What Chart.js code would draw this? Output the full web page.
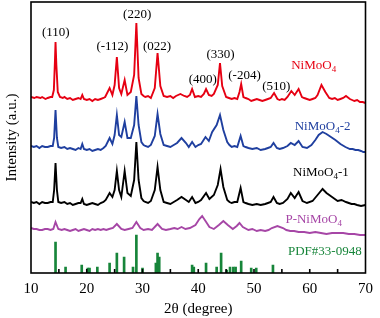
<!DOCTYPE html>
<html>
<head>
<meta charset="utf-8">
<script src="https://cdn.jsdelivr.net/npm/chart.js@4/dist/chart.umd.min.js"></script>
<style>
  html, body { margin: 0; padding: 0; background: #fff; }
</style>
</head>
<body>
<canvas id="xrd" width="380" height="318"></canvas>
<script>
// [2theta, intensity] (arbitrary units, stacked)
const nimoo4 = [
    [10, 176], [10.6, 175], [11, 176], [11.7, 175], [12, 176], [12.6, 174], [13, 175], [13.5, 176], [13.8, 176], [14.1, 183], [14.3, 213], [14.4, 231],
    [14.55, 208], [14.8, 181], [15.2, 176], [15.7, 175], [16, 176], [16.5, 174], [17, 175], [17.5, 173], [18, 174], [18.5, 175], [18.9, 174], [19.2, 178],
    [19.5, 174], [20, 173], [20.5, 174], [21, 172], [21.5, 174], [22, 173], [22.5, 174], [23, 175], [23.3, 176], [24.1, 185], [24.6, 178], [25, 188],
    [25.4, 216], [25.8, 185], [26.2, 179], [26.8, 193], [27.3, 178], [27.9, 181], [28.5, 198], [28.9, 250],
    [29.3, 195], [29.8, 179], [30.2, 177], [30.5, 176], [31, 177], [31.5, 175], [32.2, 185], [32.7, 220], [33.2, 187], [33.8, 177],
    [34.4, 176], [35, 177], [35.5, 175], [36, 177], [36.8, 179], [37.5, 177], [38, 176], [38.5, 178], [38.9, 184], [39.4, 176], [40, 177], [40.5, 176],
    [41, 179], [41.4, 184], [41.9, 178], [42.4, 177], [42.8, 179], [43.5, 188], [43.9, 210], [44.3, 187], [45, 176],
    [45.5, 175], [46, 174], [46.5, 175], [47, 174], [47.4, 181], [47.7, 189], [48.1, 176], [48.5, 175], [49, 174], [49.5, 172], [50, 173], [50.5, 174], [51, 173],
    [51.5, 172], [52, 173], [52.5, 174], [53, 175], [53.6, 180], [54.2, 174], [54.6, 173], [55, 174], [55.5, 173], [56, 176], [56.7, 182], [57.3, 178],
    [58, 184], [58.6, 176], [59, 175], [59.5, 174], [60, 173], [60.5, 174], [61, 175], [61.4, 178], [62.1, 188], [62.8, 181], [63.5, 175],
    [64, 174], [64.5, 175], [65, 173], [65.5, 174], [66, 175], [66.5, 177], [67.2, 174], [67.6, 173], [68, 172], [68.5, 173], [69, 171], [69.5, 171], [70, 170]
];
const nimoo4_2 = [
    [10, 127], [10.5, 126], [11, 127], [11.5, 125], [12, 127], [12.5, 126], [13, 126], [13.5, 127], [13.9, 127], [14.15, 135], [14.4, 163], [14.65, 135],
    [14.9, 126], [15.4, 125], [16, 126], [16.5, 124], [17, 125], [17.5, 124], [18, 123], [18.5, 125], [18.9, 124], [19.2, 129], [19.5, 124], [20, 123], [20.5, 124],
    [21, 122], [21.5, 123], [22, 124], [22.5, 123], [23, 125], [23.4, 127], [24.1, 135], [24.6, 129], [25, 138], [25.4, 158], [25.8, 138],
    [26.2, 136], [26.8, 151], [27.3, 135], [27.9, 135], [28.5, 148], [28.9, 177], [29.3, 148], [29.8, 131],
    [30.2, 128], [30.5, 127], [31, 126], [31.5, 128], [32.2, 137], [32.7, 159], [33.2, 139], [33.8, 128], [34.4, 127], [35, 126], [35.6, 128], [36.2, 130],
    [37, 135], [37.8, 130], [38.3, 126], [38.9, 131], [39.5, 126], [40, 128], [40.5, 129], [41.3, 136], [41.9, 132],
    [42.5, 141], [43.3, 148], [43.9, 158], [44.5, 143], [45.2, 131], [45.6, 128], [46, 126], [46.5, 127], [47, 126], [47.6, 137],
    [48.1, 127], [48.5, 126], [49, 125], [49.7, 124], [50.5, 125], [51.2, 123], [52, 124], [52.5, 125], [53, 126], [53.5, 130], [54.1, 125], [54.6, 124], [55.2, 125],
    [56, 127], [56.6, 130], [57.3, 128], [58, 132], [58.7, 126], [59.5, 125], [60.3, 128], [61, 133],
    [61.6, 138], [62.3, 141], [63, 139], [63.8, 136], [64.6, 133], [65.5, 129], [66.4, 126], [67.2, 124],
    [67.7, 124], [68.2, 123], [68.7, 123], [69.2, 122], [69.6, 121], [70, 121]
];
const nimoo4_1 = [
    [10, 71], [10.5, 70], [11, 71], [11.5, 69], [12, 71], [12.5, 70], [13, 70], [13.5, 71], [13.9, 71], [14.15, 83], [14.4, 110], [14.65, 83],
    [14.9, 71], [15.4, 70], [16, 71], [16.5, 69], [17, 70], [17.5, 68], [18, 69], [18.5, 70], [18.9, 70], [19.2, 74], [19.5, 69], [20, 68], [20.5, 69],
    [21, 70], [21.5, 69], [22, 68], [22.5, 70], [23, 71], [23.4, 73], [24.1, 80], [24.6, 76], [25, 83], [25.4, 102], [25.8, 83],
    [26.2, 76], [26.8, 102], [27.3, 80], [27.9, 77], [28.5, 93], [28.9, 131], [29.3, 93], [29.8, 75],
    [30.2, 72], [30.5, 71], [31, 70], [31.5, 72], [32.2, 83], [32.7, 106], [33.2, 83], [33.8, 71], [34.4, 70], [35, 69], [35.6, 71], [36.2, 73],
    [37, 76], [37.8, 73], [38.3, 71], [38.9, 76], [39.5, 70], [40, 71], [40.5, 73], [41.4, 80], [42, 74],
    [42.8, 78], [43.5, 88], [44, 104], [44.5, 86], [45.2, 73], [45.6, 71], [46, 70], [46.5, 71], [47, 71], [47.6, 85],
    [48.1, 71], [48.5, 70], [49, 69], [49.7, 68], [50.5, 69], [51.2, 68], [52, 69], [52.5, 70], [53, 71], [53.5, 76], [54.1, 70], [54.6, 69], [55.2, 70],
    [56, 74], [56.6, 80], [57.3, 75], [58, 81], [58.7, 72], [59.5, 70], [60.5, 72], [61.4, 78],
    [62.3, 84], [63, 80], [64, 76], [65, 72], [65.7, 73], [66.5, 71], [67, 70], [67.5, 69], [68, 69], [68.5, 68], [69.2, 67], [70, 68]
];
const pNimoo4 = [
    [10, 45], [10.5, 44], [11, 44], [11.5, 43], [12, 43], [12.5, 44], [13, 44], [13.5, 43], [14, 44], [14.4, 51], [14.9, 44], [15.5, 43], [16, 44], [16.5, 43],
    [17, 42], [17.5, 43], [18, 44], [18.5, 42], [19, 43], [19.5, 44], [20, 43], [20.5, 42], [21, 44], [21.5, 43], [22, 44], [22.5, 43], [23, 44], [23.5, 43],
    [24, 44], [24.7, 45], [25.4, 49], [26.2, 44], [26.8, 43], [27.5, 44], [28.2, 45], [28.9, 51], [29.6, 45], [30.2, 43], [31, 44], [31.7, 43],
    [32.7, 49], [33.5, 44], [34.2, 43], [35, 44], [35.7, 45], [36.3, 44], [37, 46], [37.7, 44], [38.5, 45], [39.5, 48], [40.2, 54], [40.7, 57],
    [41.3, 52], [42, 46], [42.8, 44], [43.7, 48], [44.5, 52], [45.3, 48], [46.2, 44], [46.9, 47],
    [47.4, 50], [48, 46], [49, 43], [49.7, 44], [50.5, 42], [51.2, 43], [52, 42], [52.6, 43], [53.2, 45], [54.2, 47], [55.2, 45],
    [55.8, 43], [56.5, 42], [57.2, 42], [58, 41], [59, 41], [60, 40], [61, 41], [62, 40], [63, 39], [64, 40], [65, 40], [66, 40], [67, 39], [68, 39], [69, 38], [70, 38]
];
// PDF#33-0948 reference lines
const pdfAngles = [14.4, 16.2, 19.1, 20.2, 20.5, 21.9, 24.1, 25.4, 26.7, 28.3, 28.9, 30.0, 32.4, 32.7,
    33.0, 38.9, 39.2, 41.4, 43.3, 44.1, 45.1, 45.7, 46.3, 46.7, 47.7, 49.5, 50.4, 53.4];
const pdfHeights = [31, 6, 8, 5, 5, 6, 10, 20, 16, 6, 38, 5, 10, 20,
    16, 8, 6, 10, 6, 20, 3, 6, 6, 6, 12, 5, 5, 8];

const hkl = ['(110)', '(-112)', '(220)', '(022)', '(400)', '(330)', '(-204)', '(510)'];
const hklAngles = [14.45, 24.6, 29.05, 32.6, 40.8, 44.0, 48.3, 54.0];
const xTicks = [10, 20, 30, 40, 50, 60, 70];

const serif = '"Liberation Serif", "Times New Roman", serif';
const toXY = (arr) => arr.map(p => ({ x: p[0], y: p[1] }));

// frame + inward ticks + text labels
const decorations = {
    id: 'decorations',
    afterDatasetsDraw(chart) {
        const ctx = chart.ctx;
        const a = chart.chartArea;
        const xs = chart.scales.x, ys = chart.scales.y;
        ctx.save();
        ctx.strokeStyle = '#000';
        ctx.lineWidth = 1.6;
        ctx.strokeRect(a.left, a.top, a.right - a.left, a.bottom - a.top);
        for (let v = 15; v < 70; v += 5) {
            const px = xs.getPixelForValue(v);
            ctx.beginPath();
            ctx.moveTo(px, a.bottom);
            ctx.lineTo(px, a.bottom - 4);
            ctx.stroke();
        }

        ctx.font = '13px ' + serif;
        ctx.textAlign = 'center';
        ctx.textBaseline = 'middle';
        ctx.fillStyle = '#000';
        const hklY = [240, 226, 258, 226, 193, 218, 197, 186];
        hkl.forEach(function(t, i) {
            ctx.fillText(t, xs.getPixelForValue(hklAngles[i]), ys.getPixelForValue(hklY[i]));
        });

        chemLabel(ctx, 'NiMoO', '4', '', xs.getPixelForValue(60.7), ys.getPixelForValue(207), '#e60012');
        chemLabel(ctx, 'NiMoO', '4', '-2', xs.getPixelForValue(62.3), ys.getPixelForValue(146), '#1f3f9f');
        chemLabel(ctx, 'NiMoO', '4', '-1', xs.getPixelForValue(62.0), ys.getPixelForValue(100), '#000');
        chemLabel(ctx, 'P-NiMoO', '4', '', xs.getPixelForValue(60.7), ys.getPixelForValue(53), '#a646a6');
        chemLabel(ctx, 'PDF#33-0948', '', '', xs.getPixelForValue(62.7), ys.getPixelForValue(21), '#17853a');
        ctx.restore();
    }
};

function chemLabel(ctx, main, sub, tail, cx, cy, color) {
    const big = '13px ' + serif, small = '9px ' + serif;
    ctx.font = big;
    const w1 = ctx.measureText(main).width, w3 = ctx.measureText(tail).width;
    ctx.font = small;
    const w2 = sub ? ctx.measureText(sub).width : 0;
    let x = cx - (w1 + w2 + w3) / 2;
    ctx.fillStyle = color;
    ctx.textAlign = 'left';
    ctx.textBaseline = 'middle';
    ctx.font = big;
    ctx.fillText(main, x, cy);
    x += w1;
    if (sub) {
        ctx.font = small;
        ctx.fillText(sub, x, cy + 4);
        x += w2;
    }
    ctx.font = big;
    ctx.fillText(tail, x, cy);
    ctx.textAlign = 'center';
}

const lineStyle = { borderWidth: 1.9, pointRadius: 0, tension: 0, fill: false };

new Chart(document.getElementById('xrd'), {
    type: 'line',
    data: {
        datasets: [
            Object.assign({ label: 'NiMoO4', data: toXY(nimoo4), borderColor: '#e60012' }, lineStyle),
            Object.assign({ label: 'NiMoO4-2', data: toXY(nimoo4_2), borderColor: '#1f3f9f' }, lineStyle),
            Object.assign({ label: 'NiMoO4-1', data: toXY(nimoo4_1), borderColor: '#000' }, lineStyle),
            Object.assign({ label: 'P-NiMoO4', data: toXY(pNimoo4), borderColor: '#a646a6' }, lineStyle),
            {
                type: 'bar',
                label: 'PDF#33-0948',
                data: pdfAngles.map((a, i) => ({ x: a, y: pdfHeights[i] })),
                backgroundColor: '#17853a',
                barThickness: 2,
                grouped: false
            }
        ]
    },
    options: {
        responsive: false,
        animation: false,
        devicePixelRatio: 1,
        layout: { padding: { left: 3, right: 11, top: 2, bottom: 0 } },
        plugins: { legend: { display: false }, tooltip: { enabled: false } },
        scales: {
            x: {
                type: 'linear',
                min: 10,
                max: 70,
                offset: false,
                grid: { display: false, drawTicks: false },
                border: { display: false },
                afterBuildTicks: (s) => { s.ticks = xTicks.map(v => ({ value: v })); },
                afterFit: (s) => { s.height = 45; },
                ticks: { color: '#000', padding: 7, maxRotation: 0, font: { family: serif, size: 15 } },
                title: { display: true, text: '2θ (degree)', color: '#000', padding: { top: 0, bottom: 0 }, font: { family: serif, size: 15 } }
            },
            y: {
                min: 0,
                max: 271,
                grid: { display: false, drawTicks: false },
                border: { display: false },
                afterFit: (s) => { s.width = 28; },
                ticks: { display: false },
                title: { display: true, text: 'Intensity (a.u.)', color: '#000', padding: { top: 0, bottom: 10 }, font: { family: serif, size: 15 } }
            }
        }
    },
    plugins: [decorations]
});
</script>
</body>
</html>
